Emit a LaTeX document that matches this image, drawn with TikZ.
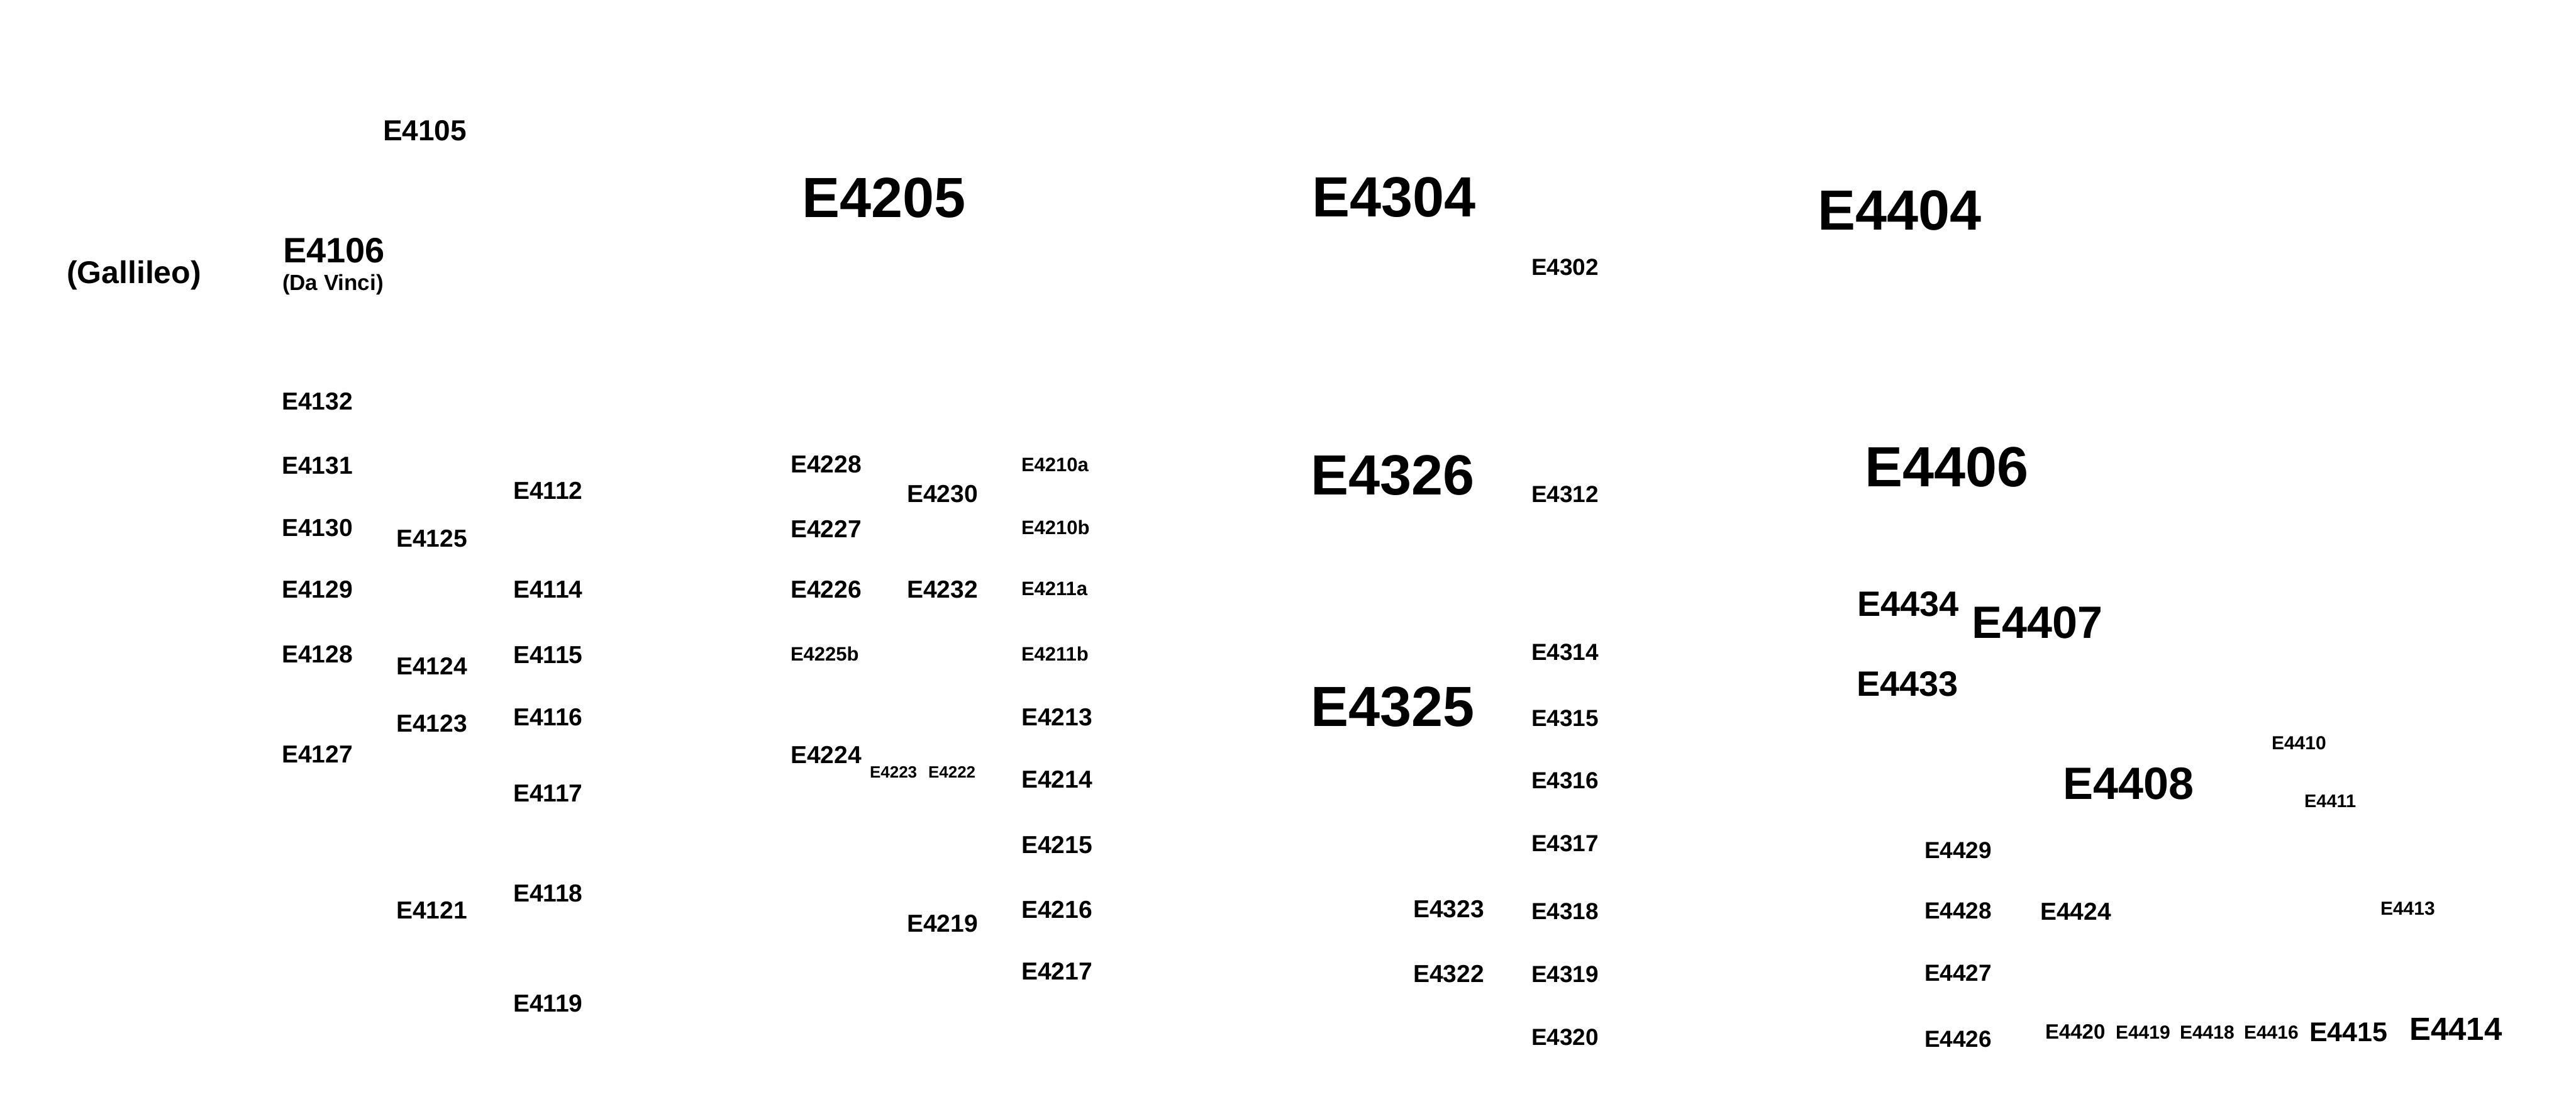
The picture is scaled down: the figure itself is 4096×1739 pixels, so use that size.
\documentclass[tikz,border=0pt]{standalone}
\usepackage{fontspec}
\setmainfont{Liberation Sans}
\newcommand\lfs[1]{\fontsize{#1}{#1}\selectfont\bfseries}
\tikzset{lbl/.style={inner sep=0pt, outer sep=0pt, anchor=base west}}
\begin{document}
\begin{tikzpicture}[x=1pt,y=-1pt]
\fill[white] (0,0) rectangle (4096,1739);
\useasboundingbox (0,0) rectangle (4096,1739);
% group 41
\node[lbl,font=\lfs{50}] (gal) at (106,450) {(Gallileo)};
\node[lbl,font=\lfs{46}] (n4105) at (609,224) {E4105};
\node[lbl,font=\lfs{56}] (n4106) at (450,417) {E4106};
\node[lbl,font=\lfs{35}] (dav) at (449,461) {(Da Vinci)};
\foreach \t/\y in {4132/651,4131/753,4130/852,4129/950,4128/1053,4127/1212}
  \node[lbl,font=\lfs{39}] (n\t) at (448,\y) {E\t};
\foreach \t/\y in {4125/869,4124/1072,4123/1163,4121/1460}
  \node[lbl,font=\lfs{39}] (n\t) at (630,\y) {E\t};
\foreach \t/\y in {4112/793,4114/950,4115/1054,4116/1153,4117/1274,4118/1433,4119/1608}
  \node[lbl,font=\lfs{39}] (n\t) at (816,\y) {E\t};
% group 42
\node[lbl,font=\lfs{90}] (n4205) at (1275,345) {E4205};
\foreach \t/\y in {4228/751,4227/854,4226/950,4224/1213}
  \node[lbl,font=\lfs{39}] (n\t) at (1257,\y) {E\t};
\node[lbl,font=\lfs{31}] (n4225b) at (1257,1050) {E4225b};
\node[lbl,font=\lfs{26}] (n4223) at (1383,1236) {E4223};
\node[lbl,font=\lfs{26}] (n4222) at (1476,1236) {E4222};
\foreach \t/\y in {4230/798,4232/950,4219/1481}
  \node[lbl,font=\lfs{39}] (n\t) at (1442,\y) {E\t};
\foreach \t/\y in {4210a/749,4210b/849,4211a/946,4211b/1050}
  \node[lbl,font=\lfs{31}] (n\t) at (1624,\y) {E\t};
\foreach \t/\y in {4213/1153,4214/1252,4215/1356,4216/1459,4217/1557}
  \node[lbl,font=\lfs{39}] (n\t) at (1624,\y) {E\t};
% group 43
\node[lbl,font=\lfs{90}] (n4304) at (2086,344) {E4304};
\node[lbl,font=\lfs{90}] (n4326) at (2084,786) {E4326};
\node[lbl,font=\lfs{90}] (n4325) at (2084,1154) {E4325};
\foreach \t/\y in {4302/437,4312/798,4314/1049,4315/1154,4316/1253,4317/1353,4318/1461,4319/1561,4320/1661}
  \node[lbl,font=\lfs{37}] (n\t) at (2435,\y) {E\t};
\node[lbl,font=\lfs{39}] (n4323) at (2247,1458) {E4323};
\node[lbl,font=\lfs{39}] (n4322) at (2247,1561) {E4322};
% group 44
\node[lbl,font=\lfs{90}] (n4404) at (2890,365) {E4404};
\node[lbl,font=\lfs{90}] (n4406) at (2965,773) {E4406};
\node[lbl,font=\lfs{56}] (n4434) at (2953,979) {E4434};
\node[lbl,font=\lfs{72}] (n4407) at (3135,1014) {E4407};
\node[lbl,font=\lfs{56}] (n4433) at (2952,1106) {E4433};
\node[lbl,font=\lfs{72}] (n4408) at (3280,1270) {E4408};
\node[lbl,font=\lfs{30}] (n4410) at (3612,1191) {E4410};
\node[lbl,font=\lfs{29}] (n4411) at (3664,1283) {E4411};
\foreach \t/\y in {4429/1364,4428/1460,4427/1559,4426/1664}
  \node[lbl,font=\lfs{37}] (n\t) at (3060,\y) {E\t};
\node[lbl,font=\lfs{39}] (n4424) at (3244,1462) {E4424};
\node[lbl,font=\lfs{30}] (n4413) at (3785,1454) {E4413};
\node[lbl,font=\lfs{33}] (n4420) at (3252,1651) {E4420};
\node[lbl,font=\lfs{30}] (n4419) at (3364,1651) {E4419};
\node[lbl,font=\lfs{30}] (n4418) at (3466,1651) {E4418};
\node[lbl,font=\lfs{30}] (n4416) at (3568,1651) {E4416};
\node[lbl,font=\lfs{43}] (n4415) at (3672,1655) {E4415};
\node[lbl,font=\lfs{51}] (n4414) at (3831,1653) {E4414};
\end{tikzpicture}
\end{document}
